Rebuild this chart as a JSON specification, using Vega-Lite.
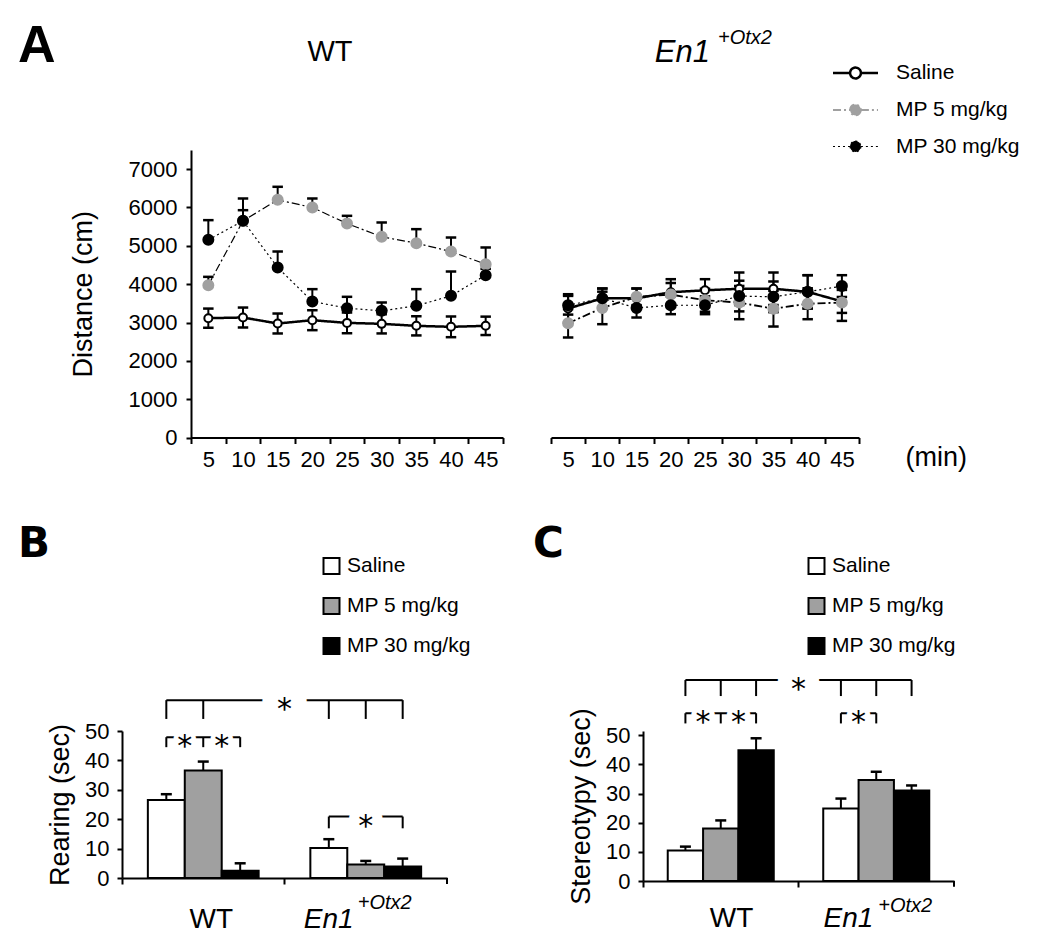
{
"$schema": "https://vega.github.io/schema/vega-lite/v6.json",
"background": "white",
"padding": {"left": 18, "top": 19, "right": 5, "bottom": 5},
"config": {
  "font": "Liberation Sans",
  "view": {"stroke": null},
  "axis": {"grid": false, "domainColor": "black", "domainWidth": 2, "tickColor": "black", "tickWidth": 2, "labelColor": "black", "titleColor": "black", "labelFont": "Liberation Sans", "titleFont": "Liberation Sans", "labelFontSize": 22, "titleFontSize": 27, "titleFontWeight": "normal"},
  "legend": {"labelFont": "Liberation Sans", "labelFontSize": 21, "labelColor": "black", "labelLimit": 0},
  "title": {"color": "black"}
},
"spacing": 51,
"resolve": {"scale": {"fill": "independent", "xOffset": "independent", "strokeDash": "independent", "strokeWidth": "independent", "stroke": "independent"}},
"vconcat": [
{
  "title": {"text": "A", "anchor": "start", "frame": "group", "font": "Liberation Sans", "fontSize": 52, "fontWeight": "bold", "baseline": "alphabetic", "offset": 0, "dx": -104, "dy": 86},
  "spacing": 48,
  "bounds": "flush",
  "resolve": {"scale": {"fill": "independent", "strokeDash": "independent", "strokeWidth": "independent", "stroke": "independent"}},
  "hconcat": [
  {"width": 21, "height": 10, "data": {"values": []}, "mark": "point"},
  {
    "width": 312, "height": 287.5,
    "title": {"text": "WT", "font": "Liberation Sans", "fontSize": 29, "fontWeight": "normal", "anchor": "middle", "frame": "group", "baseline": "alphabetic", "offset": 60.5, "dx": -17},
    "data": {"name": "distance"},
    "transform": [{"filter": "datum.genotype == 'WT'"}],
    "layer": [
      {"mark": {"type": "line", "color": "black"},
       "encoding": {
         "x": {"field": "time", "type": "quantitative", "scale": {"domain": [2.5, 47.5], "nice": false, "zero": false},
               "axis": {"values": [2.5, 7.5, 12.5, 17.5, 22.5, 27.5, 32.5, 37.5, 42.5, 47.5], "tickCount": 30, "labelExpr": "datum.value < 47 ? format(datum.value + 2.5, 'd') : ''", "labelOffset": 17.33, "labelFlush": false, "labelBound": false, "labelOverlap": false, "tickSize": 6, "labelPadding": 23, "labelBaseline": "alphabetic", "labelAlign": "center", "title": null}},
         "y": {"field": "mean", "type": "quantitative", "scale": {"domain": [0, 7500], "nice": false},
               "axis": {"values": [0, 1000, 2000, 3000, 4000, 5000, 6000, 7000], "tickCount": 30, "labelOverlap": false, "format": "d", "title": "Distance (cm)", "tickSize": 5, "labelPadding": 9, "titlePadding": 31}},
         "detail": {"field": "treatment"},
         "strokeDash": {"condition": [{"test": "datum.treatment == 'MP 5 mg/kg'", "value": [8, 3, 2, 3]}, {"test": "datum.treatment == 'MP 30 mg/kg'", "value": [2, 3]}], "value": [1, 0]},
         "strokeWidth": {"condition": {"test": "datum.treatment == 'Saline'", "value": 2.5}, "value": 1.2}
       }},
      {"mark": {"type": "rule", "color": "black", "strokeWidth": 2},
       "encoding": {
         "x": {"field": "time", "type": "quantitative", "scale": {"domain": [2.5, 47.5], "nice": false, "zero": false}},
         "y": {"field": "lo", "type": "quantitative", "scale": {"domain": [0, 7500], "nice": false}},
         "y2": {"field": "hi"}
       }},
      {"mark": {"type": "point", "shape": "M-1,0L1,0", "size": 110, "stroke": "black", "strokeWidth": 2.5, "filled": false, "opacity": 1},
       "encoding": {
         "x": {"field": "time", "type": "quantitative", "scale": {"domain": [2.5, 47.5], "nice": false, "zero": false}},
         "y": {"field": "hi", "type": "quantitative", "scale": {"domain": [0, 7500], "nice": false}}
       }},
      {"transform": [{"filter": "datum.lo < datum.mean"}],
       "mark": {"type": "point", "shape": "M-1,0L1,0", "size": 110, "stroke": "black", "strokeWidth": 2.5, "filled": false, "opacity": 1},
       "encoding": {
         "x": {"field": "time", "type": "quantitative", "scale": {"domain": [2.5, 47.5], "nice": false, "zero": false}},
         "y": {"field": "lo", "type": "quantitative", "scale": {"domain": [0, 7500], "nice": false}}
       }},
      {"mark": {"type": "point", "filled": true, "opacity": 1, "strokeWidth": 2},
       "encoding": {
         "x": {"field": "time", "type": "quantitative", "scale": {"domain": [2.5, 47.5], "nice": false, "zero": false}},
         "y": {"field": "mean", "type": "quantitative", "scale": {"domain": [0, 7500], "nice": false}},
         "fill": {"field": "treatment", "type": "nominal", "scale": {"domain": ["Saline", "MP 5 mg/kg", "MP 30 mg/kg"], "range": ["white", "#a0a0a0", "black"]}, "legend": null},
         "stroke": {"condition": {"test": "datum.treatment == 'MP 5 mg/kg'", "value": "#a0a0a0"}, "value": "black"},
         "size": {"condition": {"test": "datum.treatment == 'Saline'", "value": 64}, "value": 100}
       }}
    ]
  },
  {
    "width": 308, "height": 287.5,
    "layer": [
      {"data": {"name": "distance"}, "transform": [{"filter": "datum.genotype != 'WT'"}],
       "mark": {"type": "line", "color": "black"},
       "encoding": {
         "x": {"field": "time", "type": "quantitative", "scale": {"domain": [2.5, 47.5], "nice": false, "zero": false},
               "axis": {"values": [2.5, 7.5, 12.5, 17.5, 22.5, 27.5, 32.5, 37.5, 42.5, 47.5], "tickCount": 30, "labelExpr": "datum.value < 47 ? format(datum.value + 2.5, 'd') : ''", "labelOffset": 17.11, "labelFlush": false, "labelBound": false, "labelOverlap": false, "tickSize": 6, "labelPadding": 23, "labelBaseline": "alphabetic", "labelAlign": "center",
                        "title": "(min)", "titleFontSize": 27, "titleX": 354, "titleY": 28, "titleAlign": "left", "titleBaseline": "alphabetic"}},
         "y": {"field": "mean", "type": "quantitative", "scale": {"domain": [0, 7500], "nice": false}, "axis": null},
         "detail": {"field": "treatment"},
         "strokeDash": {"field": "treatment", "type": "nominal", "scale": {"domain": ["Saline", "MP 5 mg/kg", "MP 30 mg/kg"], "range": [[1, 0], [8, 3, 2, 3], [2, 3]]},
                        "legend": {"orient": "none", "legendX": 285, "legendY": -96.5, "title": null,
                                   "symbolType": "M-1.25,0H-0.3M0.3,0H1.25M0.3,0A0.3,0.3,0,1,1,-0.3,0A0.3,0.3,0,1,1,0.3,0Z",
                                   "symbolSize": 1296, "symbolStrokeColor": "black", "labelFontSize": 21, "labelOffset": 21, "rowPadding": 7.5}},
         "strokeWidth": {"field": "treatment", "type": "nominal", "scale": {"domain": ["Saline", "MP 5 mg/kg", "MP 30 mg/kg"], "range": [2.5, 1.2, 1.2]},
                        "legend": {"orient": "none", "legendX": 285, "legendY": -96.5, "title": null,
                                   "symbolType": "M-1.25,0H-0.3M0.3,0H1.25M0.3,0A0.3,0.3,0,1,1,-0.3,0A0.3,0.3,0,1,1,0.3,0Z",
                                   "symbolSize": 1296, "symbolStrokeColor": "black", "labelFontSize": 21, "labelOffset": 21, "rowPadding": 7.5}}
       }},
      {"data": {"name": "distance"}, "transform": [{"filter": "datum.genotype != 'WT'"}],
       "mark": {"type": "rule", "color": "black", "strokeWidth": 2},
       "encoding": {
         "x": {"field": "time", "type": "quantitative", "scale": {"domain": [2.5, 47.5], "nice": false, "zero": false}},
         "y": {"field": "lo", "type": "quantitative", "scale": {"domain": [0, 7500], "nice": false}, "axis": null},
         "y2": {"field": "hi"}
       }},
      {"data": {"name": "distance"}, "transform": [{"filter": "datum.genotype != 'WT'"}],
       "mark": {"type": "point", "shape": "M-1,0L1,0", "size": 110, "stroke": "black", "strokeWidth": 2.5, "filled": false, "opacity": 1},
       "encoding": {
         "x": {"field": "time", "type": "quantitative", "scale": {"domain": [2.5, 47.5], "nice": false, "zero": false}},
         "y": {"field": "hi", "type": "quantitative", "scale": {"domain": [0, 7500], "nice": false}, "axis": null}
       }},
      {"data": {"name": "distance"}, "transform": [{"filter": "datum.genotype != 'WT'"}],
       "mark": {"type": "point", "shape": "M-1,0L1,0", "size": 110, "stroke": "black", "strokeWidth": 2.5, "filled": false, "opacity": 1},
       "encoding": {
         "x": {"field": "time", "type": "quantitative", "scale": {"domain": [2.5, 47.5], "nice": false, "zero": false}},
         "y": {"field": "lo", "type": "quantitative", "scale": {"domain": [0, 7500], "nice": false}, "axis": null}
       }},
      {"data": {"name": "distance"}, "transform": [{"filter": "datum.genotype != 'WT'"}],
       "mark": {"type": "point", "filled": true, "opacity": 1, "strokeWidth": 2},
       "encoding": {
         "x": {"field": "time", "type": "quantitative", "scale": {"domain": [2.5, 47.5], "nice": false, "zero": false}},
         "y": {"field": "mean", "type": "quantitative", "scale": {"domain": [0, 7500], "nice": false}, "axis": null},
         "fill": {"field": "treatment", "type": "nominal", "scale": {"domain": ["Saline", "MP 5 mg/kg", "MP 30 mg/kg"], "range": ["white", "#a0a0a0", "black"]},
                  "legend": {"orient": "none", "legendX": 285, "legendY": -96.5, "title": null,
                             "symbolType": "M-1.25,0H-0.3M0.3,0H1.25M0.3,0A0.3,0.3,0,1,1,-0.3,0A0.3,0.3,0,1,1,0.3,0Z",
                             "symbolSize": 1296, "symbolStrokeColor": "black", "labelFontSize": 21, "labelOffset": 21, "rowPadding": 7.5}},
         "stroke": {"field": "treatment", "type": "nominal", "scale": {"domain": ["Saline", "MP 5 mg/kg", "MP 30 mg/kg"], "range": ["black", "#a0a0a0", "black"]},
                  "legend": {"orient": "none", "legendX": 285, "legendY": -96.5, "title": null,
                             "symbolType": "M-1.25,0H-0.3M0.3,0H1.25M0.3,0A0.3,0.3,0,1,1,-0.3,0A0.3,0.3,0,1,1,0.3,0Z",
                             "symbolSize": 1296, "symbolStrokeColor": "black", "labelFontSize": 21, "labelOffset": 21, "rowPadding": 7.5}},
         "size": {"condition": {"test": "datum.treatment == 'Saline'", "value": 64}, "value": 100}
       }},
      {"data": {"values": [{"label": "En1"}]},
       "mark": {"type": "text", "font": "Liberation Sans", "fontSize": 31, "fontStyle": "italic", "align": "right", "baseline": "alphabetic", "dx": 5, "color": "black"},
       "encoding": {"x": {"datum": 25, "type": "quantitative"}, "y": {"datum": 9800, "type": "quantitative"}, "text": {"field": "label"}}},
      {"data": {"values": [{"label": "+Otx2"}]},
       "mark": {"type": "text", "font": "Liberation Sans", "fontSize": 20, "fontStyle": "italic", "align": "left", "baseline": "alphabetic", "dx": 13, "dy": -18, "color": "black"},
       "encoding": {"x": {"datum": 25, "type": "quantitative"}, "y": {"datum": 9800, "type": "quantitative"}, "text": {"field": "label"}}}
    ]
  }
  ]
},
{
  "spacing": 196,
  "bounds": "flush",
  "resolve": {"scale": {"fill": "independent", "xOffset": "independent"}},
  "hconcat": [
  {
    "width": 325, "height": 147,
    "title": {"text": "B", "anchor": "start", "frame": "group", "font": "DejaVu Sans", "fontSize": 42, "fontWeight": "bold", "baseline": "alphabetic", "offset": 0, "dx": -104, "dy": 43},
    "layer": [
      {"data": {"name": "rearing"},
       "mark": {"type": "bar", "stroke": "black", "strokeWidth": 2},
       "encoding": {
         "x": {"field": "genotype", "type": "nominal", "scale": {"domain": ["WT", "En1+Otx2"], "paddingInner": 0, "paddingOuter": 0},
               "axis": {"title": null, "bandPosition": 0, "tickSize": 6, "labelFontSize": 28, "labelBaseline": "alphabetic", "labelPadding": 43, "labelAlign": "center", "labelAngle": 0, "labelOverlap": false,
                        "labelExpr": "datum.value == 'WT' ? 'WT' : 'En1'",
                        "labelOffset": {"condition": {"test": "datum.value == 'WT'", "value": 8}, "value": -37},
                        "labelFontStyle": {"condition": {"test": "datum.value == 'WT'", "value": "normal"}, "value": "italic"}}},
         "xOffset": {"field": "treatment", "type": "nominal", "scale": {"domain": ["Saline", "MP 5 mg/kg", "MP 30 mg/kg"], "paddingInner": 0, "paddingOuter": 0.7}},
         "y": {"field": "mean", "type": "quantitative", "scale": {"domain": [0, 50], "nice": false},
               "axis": {"values": [0, 10, 20, 30, 40, 50], "tickCount": 30, "labelOverlap": false, "title": "Rearing (sec)", "tickSize": 5, "labelPadding": 8, "titlePadding": 10}},
         "fill": {"field": "treatment", "type": "nominal", "scale": {"domain": ["Saline", "MP 5 mg/kg", "MP 30 mg/kg"], "range": ["white", "#a0a0a0", "black"]},
                  "legend": {"orient": "none", "legendX": 199, "legendY": -175.5, "title": null, "symbolType": "square", "symbolSize": 256, "symbolStrokeColor": "black", "symbolStrokeWidth": 2, "labelFontSize": 21, "labelOffset": 5, "rowPadding": 15}}
       }},
      {"data": {"name": "rearing"},
       "mark": {"type": "rule", "color": "black", "strokeWidth": 2},
       "encoding": {
         "x": {"field": "genotype", "type": "nominal", "scale": {"domain": ["WT", "En1+Otx2"], "paddingInner": 0, "paddingOuter": 0}},
         "xOffset": {"field": "treatment", "type": "nominal", "scale": {"domain": ["Saline", "MP 5 mg/kg", "MP 30 mg/kg"], "paddingInner": 0, "paddingOuter": 0.7}},
         "y": {"field": "mean", "type": "quantitative", "scale": {"domain": [0, 50], "nice": false}},
         "y2": {"field": "hi"}
       }},
      {"data": {"name": "rearing"},
       "mark": {"type": "point", "shape": "M-1,0L1,0", "size": 121, "stroke": "black", "strokeWidth": 2.5, "filled": false, "opacity": 1},
       "encoding": {
         "x": {"field": "genotype", "type": "nominal", "scale": {"domain": ["WT", "En1+Otx2"], "paddingInner": 0, "paddingOuter": 0}},
         "xOffset": {"field": "treatment", "type": "nominal", "scale": {"domain": ["Saline", "MP 5 mg/kg", "MP 30 mg/kg"], "paddingInner": 0, "paddingOuter": 0.7}},
         "y": {"field": "hi", "type": "quantitative", "scale": {"domain": [0, 50], "nice": false}}
       }},
      {"data": {"values": [{"genotype": "En1+Otx2"}]},
       "mark": {"type": "rule", "color": "black", "strokeWidth": 2},
       "encoding": {
         "x": {"field": "genotype", "type": "nominal", "bandPosition": 1, "scale": {"domain": ["WT", "En1+Otx2"], "paddingInner": 0, "paddingOuter": 0}},
         "y": {"datum": 0, "type": "quantitative"},
         "y2": {"datum": -2}
       }},
      {"data": {"name": "rearingBr"}, "transform": [{"filter": "datum.kind == 'span'"}],
       "mark": {"type": "line", "color": "black", "strokeWidth": 2},
       "encoding": {
         "x": {"field": "genotype", "type": "nominal", "scale": {"domain": ["WT", "En1+Otx2"], "paddingInner": 0, "paddingOuter": 0}},
         "xOffset": {"field": "treatment", "type": "nominal", "scale": {"domain": ["Saline", "MP 5 mg/kg", "MP 30 mg/kg"], "paddingInner": 0, "paddingOuter": 0.7}},
         "y": {"field": "lvl", "type": "quantitative", "scale": {"domain": [0, 50], "nice": false}},
         "detail": {"field": "br"}
       }},
      {"data": {"name": "rearingBr"}, "transform": [{"filter": "datum.kind == 'tick'"}],
       "mark": {"type": "rule", "color": "black", "strokeWidth": 2},
       "encoding": {
         "x": {"field": "genotype", "type": "nominal", "scale": {"domain": ["WT", "En1+Otx2"], "paddingInner": 0, "paddingOuter": 0}},
         "xOffset": {"field": "treatment", "type": "nominal", "scale": {"domain": ["Saline", "MP 5 mg/kg", "MP 30 mg/kg"], "paddingInner": 0, "paddingOuter": 0.7}},
         "y": {"field": "lo", "type": "quantitative", "scale": {"domain": [0, 50], "nice": false}},
         "y2": {"field": "hi"}
       }},
      {"data": {"name": "rearingStars"}, "transform": [{"filter": "datum.kind == 'boundary'"}],
       "mark": {"type": "text", "font": "DejaVu Sans", "fontSize": 30, "align": "center", "baseline": "alphabetic", "dy": 19, "color": "white", "stroke": "white", "strokeWidth": 31, "strokeJoin": "round"},
       "encoding": {
         "x": {"field": "genotype", "type": "nominal", "bandPosition": 1, "scale": {"domain": ["WT", "En1+Otx2"], "paddingInner": 0, "paddingOuter": 0}},
         "y": {"field": "lvl", "type": "quantitative", "scale": {"domain": [0, 50], "nice": false}},
         "text": {"field": "label"}
       }},
      {"data": {"name": "rearingStars"}, "transform": [{"filter": "datum.kind == 'boundary'"}],
       "mark": {"type": "text", "font": "DejaVu Sans", "fontSize": 30, "align": "center", "baseline": "alphabetic", "dy": 19, "color": "black"},
       "encoding": {
         "x": {"field": "genotype", "type": "nominal", "bandPosition": 1, "scale": {"domain": ["WT", "En1+Otx2"], "paddingInner": 0, "paddingOuter": 0}},
         "y": {"field": "lvl", "type": "quantitative", "scale": {"domain": [0, 50], "nice": false}},
         "text": {"field": "label"}
       }},
      {"data": {"name": "rearingStars"}, "transform": [{"filter": "datum.kind == 'between'"}],
       "mark": {"type": "text", "font": "DejaVu Sans", "fontSize": 30, "align": "center", "baseline": "alphabetic", "dx": 18.5, "dy": 19, "color": "white", "stroke": "white", "strokeWidth": 9, "strokeJoin": "round"},
       "encoding": {
         "x": {"field": "genotype", "type": "nominal", "scale": {"domain": ["WT", "En1+Otx2"], "paddingInner": 0, "paddingOuter": 0}},
         "xOffset": {"field": "treatment", "type": "nominal", "scale": {"domain": ["Saline", "MP 5 mg/kg", "MP 30 mg/kg"], "paddingInner": 0, "paddingOuter": 0.7}},
         "y": {"field": "lvl", "type": "quantitative", "scale": {"domain": [0, 50], "nice": false}},
         "text": {"field": "label"}
       }},
      {"data": {"name": "rearingStars"}, "transform": [{"filter": "datum.kind == 'between'"}],
       "mark": {"type": "text", "font": "DejaVu Sans", "fontSize": 30, "align": "center", "baseline": "alphabetic", "dx": 18.5, "dy": 19, "color": "black"},
       "encoding": {
         "x": {"field": "genotype", "type": "nominal", "scale": {"domain": ["WT", "En1+Otx2"], "paddingInner": 0, "paddingOuter": 0}},
         "xOffset": {"field": "treatment", "type": "nominal", "scale": {"domain": ["Saline", "MP 5 mg/kg", "MP 30 mg/kg"], "paddingInner": 0, "paddingOuter": 0.7}},
         "y": {"field": "lvl", "type": "quantitative", "scale": {"domain": [0, 50], "nice": false}},
         "text": {"field": "label"}
       }},
      {"data": {"name": "rearingStars"}, "transform": [{"filter": "datum.kind == 'on'"}],
       "mark": {"type": "text", "font": "DejaVu Sans", "fontSize": 30, "align": "center", "baseline": "alphabetic", "dy": 19, "color": "white", "stroke": "white", "strokeWidth": 20, "strokeJoin": "round"},
       "encoding": {
         "x": {"field": "genotype", "type": "nominal", "scale": {"domain": ["WT", "En1+Otx2"], "paddingInner": 0, "paddingOuter": 0}},
         "xOffset": {"field": "treatment", "type": "nominal", "scale": {"domain": ["Saline", "MP 5 mg/kg", "MP 30 mg/kg"], "paddingInner": 0, "paddingOuter": 0.7}},
         "y": {"field": "lvl", "type": "quantitative", "scale": {"domain": [0, 50], "nice": false}},
         "text": {"field": "label"}
       }},
      {"data": {"name": "rearingStars"}, "transform": [{"filter": "datum.kind == 'on'"}],
       "mark": {"type": "text", "font": "DejaVu Sans", "fontSize": 30, "align": "center", "baseline": "alphabetic", "dy": 19, "color": "black"},
       "encoding": {
         "x": {"field": "genotype", "type": "nominal", "scale": {"domain": ["WT", "En1+Otx2"], "paddingInner": 0, "paddingOuter": 0}},
         "xOffset": {"field": "treatment", "type": "nominal", "scale": {"domain": ["Saline", "MP 5 mg/kg", "MP 30 mg/kg"], "paddingInner": 0, "paddingOuter": 0.7}},
         "y": {"field": "lvl", "type": "quantitative", "scale": {"domain": [0, 50], "nice": false}},
         "text": {"field": "label"}
       }},
      {"data": {"values": [{"genotype": "En1+Otx2", "label": "+Otx2"}]},
       "mark": {"type": "text", "font": "Liberation Sans", "fontSize": 20, "fontStyle": "italic", "align": "left", "baseline": "alphabetic", "dx": -8, "color": "black"},
       "encoding": {
         "x": {"field": "genotype", "type": "nominal", "scale": {"domain": ["WT", "En1+Otx2"], "paddingInner": 0, "paddingOuter": 0}},
         "y": {"datum": -10.5, "type": "quantitative"},
         "text": {"field": "label"}
       }}
    ]
  },
  {
    "width": 311, "height": 150,
    "title": {"text": "C", "anchor": "start", "frame": "group", "font": "DejaVu Sans", "fontSize": 42, "fontWeight": "bold", "baseline": "alphabetic", "offset": 0, "dx": -110, "dy": 43},
    "layer": [
      {"data": {"name": "stereo"},
       "mark": {"type": "bar", "stroke": "black", "strokeWidth": 2},
       "encoding": {
         "x": {"field": "genotype", "type": "nominal", "scale": {"domain": ["WT", "En1+Otx2"], "paddingInner": 0, "paddingOuter": 0},
               "axis": {"title": null, "bandPosition": 0, "tickSize": 6, "labelFontSize": 28, "labelBaseline": "alphabetic", "labelPadding": 39, "labelAlign": "center", "labelAngle": 0, "labelOverlap": false,
                        "labelExpr": "datum.value == 'WT' ? 'WT' : 'En1'",
                        "labelOffset": {"condition": {"test": "datum.value == 'WT'", "value": 10.75}, "value": -27.75},
                        "labelFontStyle": {"condition": {"test": "datum.value == 'WT'", "value": "normal"}, "value": "italic"}}},
         "xOffset": {"field": "treatment", "type": "nominal", "scale": {"domain": ["Saline", "MP 5 mg/kg", "MP 30 mg/kg"], "paddingInner": 0, "paddingOuter": 0.7}},
         "y": {"field": "mean", "type": "quantitative", "scale": {"domain": [0, 51.5], "nice": false},
               "axis": {"values": [0, 10, 20, 30, 40, 50], "tickCount": 30, "labelOverlap": false, "title": "Stereotypy (sec)", "tickSize": 5, "labelPadding": 8, "titlePadding": 10}},
         "fill": {"field": "treatment", "type": "nominal", "scale": {"domain": ["Saline", "MP 5 mg/kg", "MP 30 mg/kg"], "range": ["white", "#a0a0a0", "black"]},
                  "legend": {"orient": "none", "legendX": 163, "legendY": -175.5, "title": null, "symbolType": "square", "symbolSize": 256, "symbolStrokeColor": "black", "symbolStrokeWidth": 2, "labelFontSize": 21, "labelOffset": 5, "rowPadding": 15}}
       }},
      {"data": {"name": "stereo"},
       "mark": {"type": "rule", "color": "black", "strokeWidth": 2},
       "encoding": {
         "x": {"field": "genotype", "type": "nominal", "scale": {"domain": ["WT", "En1+Otx2"], "paddingInner": 0, "paddingOuter": 0}},
         "xOffset": {"field": "treatment", "type": "nominal", "scale": {"domain": ["Saline", "MP 5 mg/kg", "MP 30 mg/kg"], "paddingInner": 0, "paddingOuter": 0.7}},
         "y": {"field": "mean", "type": "quantitative", "scale": {"domain": [0, 51.5], "nice": false}},
         "y2": {"field": "hi"}
       }},
      {"data": {"name": "stereo"},
       "mark": {"type": "point", "shape": "M-1,0L1,0", "size": 121, "stroke": "black", "strokeWidth": 2.5, "filled": false, "opacity": 1},
       "encoding": {
         "x": {"field": "genotype", "type": "nominal", "scale": {"domain": ["WT", "En1+Otx2"], "paddingInner": 0, "paddingOuter": 0}},
         "xOffset": {"field": "treatment", "type": "nominal", "scale": {"domain": ["Saline", "MP 5 mg/kg", "MP 30 mg/kg"], "paddingInner": 0, "paddingOuter": 0.7}},
         "y": {"field": "hi", "type": "quantitative", "scale": {"domain": [0, 51.5], "nice": false}}
       }},
      {"data": {"values": [{"genotype": "En1+Otx2"}]},
       "mark": {"type": "rule", "color": "black", "strokeWidth": 2},
       "encoding": {
         "x": {"field": "genotype", "type": "nominal", "bandPosition": 1, "scale": {"domain": ["WT", "En1+Otx2"], "paddingInner": 0, "paddingOuter": 0}},
         "y": {"datum": 0, "type": "quantitative"},
         "y2": {"datum": -2}
       }},
      {"data": {"name": "stereoBr"}, "transform": [{"filter": "datum.kind == 'span'"}],
       "mark": {"type": "line", "color": "black", "strokeWidth": 2},
       "encoding": {
         "x": {"field": "genotype", "type": "nominal", "scale": {"domain": ["WT", "En1+Otx2"], "paddingInner": 0, "paddingOuter": 0}},
         "xOffset": {"field": "treatment", "type": "nominal", "scale": {"domain": ["Saline", "MP 5 mg/kg", "MP 30 mg/kg"], "paddingInner": 0, "paddingOuter": 0.7}},
         "y": {"field": "lvl", "type": "quantitative", "scale": {"domain": [0, 51.5], "nice": false}},
         "detail": {"field": "br"}
       }},
      {"data": {"name": "stereoBr"}, "transform": [{"filter": "datum.kind == 'tick'"}],
       "mark": {"type": "rule", "color": "black", "strokeWidth": 2},
       "encoding": {
         "x": {"field": "genotype", "type": "nominal", "scale": {"domain": ["WT", "En1+Otx2"], "paddingInner": 0, "paddingOuter": 0}},
         "xOffset": {"field": "treatment", "type": "nominal", "scale": {"domain": ["Saline", "MP 5 mg/kg", "MP 30 mg/kg"], "paddingInner": 0, "paddingOuter": 0.7}},
         "y": {"field": "lo", "type": "quantitative", "scale": {"domain": [0, 51.5], "nice": false}},
         "y2": {"field": "hi"}
       }},
      {"data": {"name": "stereoStars"}, "transform": [{"filter": "datum.kind == 'boundary'"}],
       "mark": {"type": "text", "font": "DejaVu Sans", "fontSize": 30, "align": "center", "baseline": "alphabetic", "dy": 19, "color": "white", "stroke": "white", "strokeWidth": 28, "strokeJoin": "round"},
       "encoding": {
         "x": {"field": "genotype", "type": "nominal", "bandPosition": 1, "scale": {"domain": ["WT", "En1+Otx2"], "paddingInner": 0, "paddingOuter": 0}},
         "y": {"field": "lvl", "type": "quantitative", "scale": {"domain": [0, 51.5], "nice": false}},
         "text": {"field": "label"}
       }},
      {"data": {"name": "stereoStars"}, "transform": [{"filter": "datum.kind == 'boundary'"}],
       "mark": {"type": "text", "font": "DejaVu Sans", "fontSize": 30, "align": "center", "baseline": "alphabetic", "dy": 19, "color": "black"},
       "encoding": {
         "x": {"field": "genotype", "type": "nominal", "bandPosition": 1, "scale": {"domain": ["WT", "En1+Otx2"], "paddingInner": 0, "paddingOuter": 0}},
         "y": {"field": "lvl", "type": "quantitative", "scale": {"domain": [0, 51.5], "nice": false}},
         "text": {"field": "label"}
       }},
      {"data": {"name": "stereoStars"}, "transform": [{"filter": "datum.kind == 'between'"}],
       "mark": {"type": "text", "font": "DejaVu Sans", "fontSize": 30, "align": "center", "baseline": "alphabetic", "dx": 17.67, "dy": 19, "color": "white", "stroke": "white", "strokeWidth": 10, "strokeJoin": "round"},
       "encoding": {
         "x": {"field": "genotype", "type": "nominal", "scale": {"domain": ["WT", "En1+Otx2"], "paddingInner": 0, "paddingOuter": 0}},
         "xOffset": {"field": "treatment", "type": "nominal", "scale": {"domain": ["Saline", "MP 5 mg/kg", "MP 30 mg/kg"], "paddingInner": 0, "paddingOuter": 0.7}},
         "y": {"field": "lvl", "type": "quantitative", "scale": {"domain": [0, 51.5], "nice": false}},
         "text": {"field": "label"}
       }},
      {"data": {"name": "stereoStars"}, "transform": [{"filter": "datum.kind == 'between'"}],
       "mark": {"type": "text", "font": "DejaVu Sans", "fontSize": 30, "align": "center", "baseline": "alphabetic", "dx": 17.67, "dy": 19, "color": "black"},
       "encoding": {
         "x": {"field": "genotype", "type": "nominal", "scale": {"domain": ["WT", "En1+Otx2"], "paddingInner": 0, "paddingOuter": 0}},
         "xOffset": {"field": "treatment", "type": "nominal", "scale": {"domain": ["Saline", "MP 5 mg/kg", "MP 30 mg/kg"], "paddingInner": 0, "paddingOuter": 0.7}},
         "y": {"field": "lvl", "type": "quantitative", "scale": {"domain": [0, 51.5], "nice": false}},
         "text": {"field": "label"}
       }},
      {"data": {"values": [{"genotype": "En1+Otx2", "label": "+Otx2"}]},
       "mark": {"type": "text", "font": "Liberation Sans", "fontSize": 20, "fontStyle": "italic", "align": "left", "baseline": "alphabetic", "dx": 2, "color": "black"},
       "encoding": {
         "x": {"field": "genotype", "type": "nominal", "scale": {"domain": ["WT", "En1+Otx2"], "paddingInner": 0, "paddingOuter": 0}},
         "y": {"datum": -10.5, "type": "quantitative"},
         "text": {"field": "label"}
       }}
    ]
  }
  ]
}
],
"datasets": {
  "distance": [
    {"genotype": "WT", "time": 5, "treatment": "Saline", "mean": 3113, "lo": 2863, "hi": 3363},
    {"genotype": "WT", "time": 10, "treatment": "Saline", "mean": 3130, "lo": 2870, "hi": 3390},
    {"genotype": "WT", "time": 15, "treatment": "Saline", "mean": 2974, "lo": 2714, "hi": 3234},
    {"genotype": "WT", "time": 20, "treatment": "Saline", "mean": 3060, "lo": 2800, "hi": 3320},
    {"genotype": "WT", "time": 25, "treatment": "Saline", "mean": 2990, "lo": 2720, "hi": 3260},
    {"genotype": "WT", "time": 30, "treatment": "Saline", "mean": 2965, "lo": 2715, "hi": 3215},
    {"genotype": "WT", "time": 35, "treatment": "Saline", "mean": 2913, "lo": 2663, "hi": 3163},
    {"genotype": "WT", "time": 40, "treatment": "Saline", "mean": 2887, "lo": 2617, "hi": 3157},
    {"genotype": "WT", "time": 45, "treatment": "Saline", "mean": 2913, "lo": 2673, "hi": 3153},
    {"genotype": "WT", "time": 5, "treatment": "MP 5 mg/kg", "mean": 3974, "lo": 3974, "hi": 4191},
    {"genotype": "WT", "time": 10, "treatment": "MP 5 mg/kg", "mean": 5650, "lo": 5650, "hi": 5930},
    {"genotype": "WT", "time": 15, "treatment": "MP 5 mg/kg", "mean": 6200, "lo": 6200, "hi": 6540},
    {"genotype": "WT", "time": 20, "treatment": "MP 5 mg/kg", "mean": 6000, "lo": 6000, "hi": 6235},
    {"genotype": "WT", "time": 25, "treatment": "MP 5 mg/kg", "mean": 5583, "lo": 5583, "hi": 5783},
    {"genotype": "WT", "time": 30, "treatment": "MP 5 mg/kg", "mean": 5235, "lo": 5235, "hi": 5609},
    {"genotype": "WT", "time": 35, "treatment": "MP 5 mg/kg", "mean": 5070, "lo": 5070, "hi": 5435},
    {"genotype": "WT", "time": 40, "treatment": "MP 5 mg/kg", "mean": 4852, "lo": 4852, "hi": 5217},
    {"genotype": "WT", "time": 45, "treatment": "MP 5 mg/kg", "mean": 4522, "lo": 4522, "hi": 4957},
    {"genotype": "WT", "time": 5, "treatment": "MP 30 mg/kg", "mean": 5157, "lo": 5157, "hi": 5670},
    {"genotype": "WT", "time": 10, "treatment": "MP 30 mg/kg", "mean": 5652, "lo": 5652, "hi": 6235},
    {"genotype": "WT", "time": 15, "treatment": "MP 30 mg/kg", "mean": 4435, "lo": 4435, "hi": 4852},
    {"genotype": "WT", "time": 20, "treatment": "MP 30 mg/kg", "mean": 3548, "lo": 3548, "hi": 3870},
    {"genotype": "WT", "time": 25, "treatment": "MP 30 mg/kg", "mean": 3374, "lo": 3374, "hi": 3670},
    {"genotype": "WT", "time": 30, "treatment": "MP 30 mg/kg", "mean": 3304, "lo": 3304, "hi": 3522},
    {"genotype": "WT", "time": 35, "treatment": "MP 30 mg/kg", "mean": 3435, "lo": 3435, "hi": 3870},
    {"genotype": "WT", "time": 40, "treatment": "MP 30 mg/kg", "mean": 3696, "lo": 3696, "hi": 4330},
    {"genotype": "WT", "time": 45, "treatment": "MP 30 mg/kg", "mean": 4235, "lo": 4235, "hi": 4400},
    {"genotype": "En1+Otx2", "time": 5, "treatment": "Saline", "mean": 3365, "lo": 2992, "hi": 3738},
    {"genotype": "En1+Otx2", "time": 10, "treatment": "Saline", "mean": 3630, "lo": 3373, "hi": 3887},
    {"genotype": "En1+Otx2", "time": 15, "treatment": "Saline", "mean": 3630, "lo": 3373, "hi": 3887},
    {"genotype": "En1+Otx2", "time": 20, "treatment": "Saline", "mean": 3790, "lo": 3450, "hi": 4130},
    {"genotype": "En1+Otx2", "time": 25, "treatment": "Saline", "mean": 3840, "lo": 3550, "hi": 4130},
    {"genotype": "En1+Otx2", "time": 30, "treatment": "Saline", "mean": 3880, "lo": 3456, "hi": 4304},
    {"genotype": "En1+Otx2", "time": 35, "treatment": "Saline", "mean": 3880, "lo": 3456, "hi": 4304},
    {"genotype": "En1+Otx2", "time": 40, "treatment": "Saline", "mean": 3800, "lo": 3366, "hi": 4234},
    {"genotype": "En1+Otx2", "time": 45, "treatment": "Saline", "mean": 3550, "lo": 3250, "hi": 3850},
    {"genotype": "En1+Otx2", "time": 5, "treatment": "MP 5 mg/kg", "mean": 2980, "lo": 2609, "hi": 3351},
    {"genotype": "En1+Otx2", "time": 10, "treatment": "MP 5 mg/kg", "mean": 3380, "lo": 2956, "hi": 3804},
    {"genotype": "En1+Otx2", "time": 15, "treatment": "MP 5 mg/kg", "mean": 3670, "lo": 3453, "hi": 3887},
    {"genotype": "En1+Otx2", "time": 20, "treatment": "MP 5 mg/kg", "mean": 3730, "lo": 3430, "hi": 4030},
    {"genotype": "En1+Otx2", "time": 25, "treatment": "MP 5 mg/kg", "mean": 3580, "lo": 3280, "hi": 3880},
    {"genotype": "En1+Otx2", "time": 30, "treatment": "MP 5 mg/kg", "mean": 3520, "lo": 3086, "hi": 3954},
    {"genotype": "En1+Otx2", "time": 35, "treatment": "MP 5 mg/kg", "mean": 3360, "lo": 2895, "hi": 3825},
    {"genotype": "En1+Otx2", "time": 40, "treatment": "MP 5 mg/kg", "mean": 3490, "lo": 3086, "hi": 3894},
    {"genotype": "En1+Otx2", "time": 45, "treatment": "MP 5 mg/kg", "mean": 3520, "lo": 3042, "hi": 3998},
    {"genotype": "En1+Otx2", "time": 5, "treatment": "MP 30 mg/kg", "mean": 3450, "lo": 3206, "hi": 3694},
    {"genotype": "En1+Otx2", "time": 10, "treatment": "MP 30 mg/kg", "mean": 3630, "lo": 3373, "hi": 3887},
    {"genotype": "En1+Otx2", "time": 15, "treatment": "MP 30 mg/kg", "mean": 3380, "lo": 3130, "hi": 3630},
    {"genotype": "En1+Otx2", "time": 20, "treatment": "MP 30 mg/kg", "mean": 3450, "lo": 3217, "hi": 3683},
    {"genotype": "En1+Otx2", "time": 25, "treatment": "MP 30 mg/kg", "mean": 3450, "lo": 3217, "hi": 3683},
    {"genotype": "En1+Otx2", "time": 30, "treatment": "MP 30 mg/kg", "mean": 3690, "lo": 3290, "hi": 4090},
    {"genotype": "En1+Otx2", "time": 35, "treatment": "MP 30 mg/kg", "mean": 3670, "lo": 3270, "hi": 4070},
    {"genotype": "En1+Otx2", "time": 40, "treatment": "MP 30 mg/kg", "mean": 3800, "lo": 3366, "hi": 4234},
    {"genotype": "En1+Otx2", "time": 45, "treatment": "MP 30 mg/kg", "mean": 3950, "lo": 3666, "hi": 4234}
  ],
  "rearing": [
    {"genotype": "WT", "treatment": "Saline", "mean": 26.5, "hi": 28.5},
    {"genotype": "WT", "treatment": "MP 5 mg/kg", "mean": 36.6, "hi": 39.6},
    {"genotype": "WT", "treatment": "MP 30 mg/kg", "mean": 2.5, "hi": 5.0},
    {"genotype": "En1+Otx2", "treatment": "Saline", "mean": 10.2, "hi": 13.2},
    {"genotype": "En1+Otx2", "treatment": "MP 5 mg/kg", "mean": 4.6, "hi": 5.8},
    {"genotype": "En1+Otx2", "treatment": "MP 30 mg/kg", "mean": 3.9, "hi": 6.6}
  ],
  "stereo": [
    {"genotype": "WT", "treatment": "Saline", "mean": 10.5, "hi": 11.8},
    {"genotype": "WT", "treatment": "MP 5 mg/kg", "mean": 18.0, "hi": 20.8},
    {"genotype": "WT", "treatment": "MP 30 mg/kg", "mean": 44.9, "hi": 49.0},
    {"genotype": "En1+Otx2", "treatment": "Saline", "mean": 24.9, "hi": 28.3},
    {"genotype": "En1+Otx2", "treatment": "MP 5 mg/kg", "mean": 34.7, "hi": 37.5},
    {"genotype": "En1+Otx2", "treatment": "MP 30 mg/kg", "mean": 31.1, "hi": 32.8}
  ],
  "rearingBr": [
    {"kind": "span", "br": "all", "genotype": "WT", "treatment": "Saline", "lvl": 60.5},
    {"kind": "span", "br": "all", "genotype": "En1+Otx2", "treatment": "MP 30 mg/kg", "lvl": 60.5},
    {"kind": "span", "br": "wt", "genotype": "WT", "treatment": "Saline", "lvl": 47.9},
    {"kind": "span", "br": "wt", "genotype": "WT", "treatment": "MP 30 mg/kg", "lvl": 47.9},
    {"kind": "span", "br": "en", "genotype": "En1+Otx2", "treatment": "Saline", "lvl": 20.9},
    {"kind": "span", "br": "en", "genotype": "En1+Otx2", "treatment": "MP 30 mg/kg", "lvl": 20.9},
    {"kind": "tick", "genotype": "WT", "treatment": "Saline", "lo": 54.1, "hi": 60.5},
    {"kind": "tick", "genotype": "WT", "treatment": "MP 5 mg/kg", "lo": 54.1, "hi": 60.5},
    {"kind": "tick", "genotype": "En1+Otx2", "treatment": "Saline", "lo": 54.1, "hi": 60.5},
    {"kind": "tick", "genotype": "En1+Otx2", "treatment": "MP 5 mg/kg", "lo": 54.1, "hi": 60.5},
    {"kind": "tick", "genotype": "En1+Otx2", "treatment": "MP 30 mg/kg", "lo": 54.1, "hi": 60.5},
    {"kind": "tick", "genotype": "WT", "treatment": "Saline", "lo": 44.5, "hi": 47.9},
    {"kind": "tick", "genotype": "WT", "treatment": "MP 5 mg/kg", "lo": 44.5, "hi": 47.9},
    {"kind": "tick", "genotype": "WT", "treatment": "MP 30 mg/kg", "lo": 44.5, "hi": 47.9},
    {"kind": "tick", "genotype": "En1+Otx2", "treatment": "Saline", "lo": 16.9, "hi": 20.9},
    {"kind": "tick", "genotype": "En1+Otx2", "treatment": "MP 30 mg/kg", "lo": 16.9, "hi": 20.9}
  ],
  "rearingStars": [
    {"kind": "boundary", "genotype": "WT", "lvl": 60.5, "label": "*"},
    {"kind": "between", "genotype": "WT", "treatment": "Saline", "lvl": 47.9, "label": "*"},
    {"kind": "between", "genotype": "WT", "treatment": "MP 5 mg/kg", "lvl": 47.9, "label": "*"},
    {"kind": "on", "genotype": "En1+Otx2", "treatment": "MP 5 mg/kg", "lvl": 20.9, "label": "*"}
  ],
  "stereoBr": [
    {"kind": "span", "br": "all", "genotype": "WT", "treatment": "Saline", "lvl": 69.0},
    {"kind": "span", "br": "all", "genotype": "En1+Otx2", "treatment": "MP 30 mg/kg", "lvl": 69.0},
    {"kind": "span", "br": "wt", "genotype": "WT", "treatment": "Saline", "lvl": 57.6},
    {"kind": "span", "br": "wt", "genotype": "WT", "treatment": "MP 30 mg/kg", "lvl": 57.6},
    {"kind": "span", "br": "en", "genotype": "En1+Otx2", "treatment": "Saline", "lvl": 57.6},
    {"kind": "span", "br": "en", "genotype": "En1+Otx2", "treatment": "MP 5 mg/kg", "lvl": 57.6},
    {"kind": "tick", "genotype": "WT", "treatment": "Saline", "lo": 63.5, "hi": 69.0},
    {"kind": "tick", "genotype": "WT", "treatment": "MP 5 mg/kg", "lo": 63.5, "hi": 69.0},
    {"kind": "tick", "genotype": "WT", "treatment": "MP 30 mg/kg", "lo": 63.5, "hi": 69.0},
    {"kind": "tick", "genotype": "En1+Otx2", "treatment": "Saline", "lo": 63.5, "hi": 69.0},
    {"kind": "tick", "genotype": "En1+Otx2", "treatment": "MP 5 mg/kg", "lo": 63.5, "hi": 69.0},
    {"kind": "tick", "genotype": "En1+Otx2", "treatment": "MP 30 mg/kg", "lo": 63.5, "hi": 69.0},
    {"kind": "tick", "genotype": "WT", "treatment": "Saline", "lo": 54.1, "hi": 57.6},
    {"kind": "tick", "genotype": "WT", "treatment": "MP 5 mg/kg", "lo": 54.1, "hi": 57.6},
    {"kind": "tick", "genotype": "WT", "treatment": "MP 30 mg/kg", "lo": 54.1, "hi": 57.6},
    {"kind": "tick", "genotype": "En1+Otx2", "treatment": "Saline", "lo": 54.1, "hi": 57.6},
    {"kind": "tick", "genotype": "En1+Otx2", "treatment": "MP 5 mg/kg", "lo": 54.1, "hi": 57.6}
  ],
  "stereoStars": [
    {"kind": "boundary", "genotype": "WT", "lvl": 69.0, "label": "*"},
    {"kind": "between", "genotype": "WT", "treatment": "Saline", "lvl": 57.6, "label": "*"},
    {"kind": "between", "genotype": "WT", "treatment": "MP 5 mg/kg", "lvl": 57.6, "label": "*"},
    {"kind": "between", "genotype": "En1+Otx2", "treatment": "Saline", "lvl": 57.6, "label": "*"}
  ]
}
}
